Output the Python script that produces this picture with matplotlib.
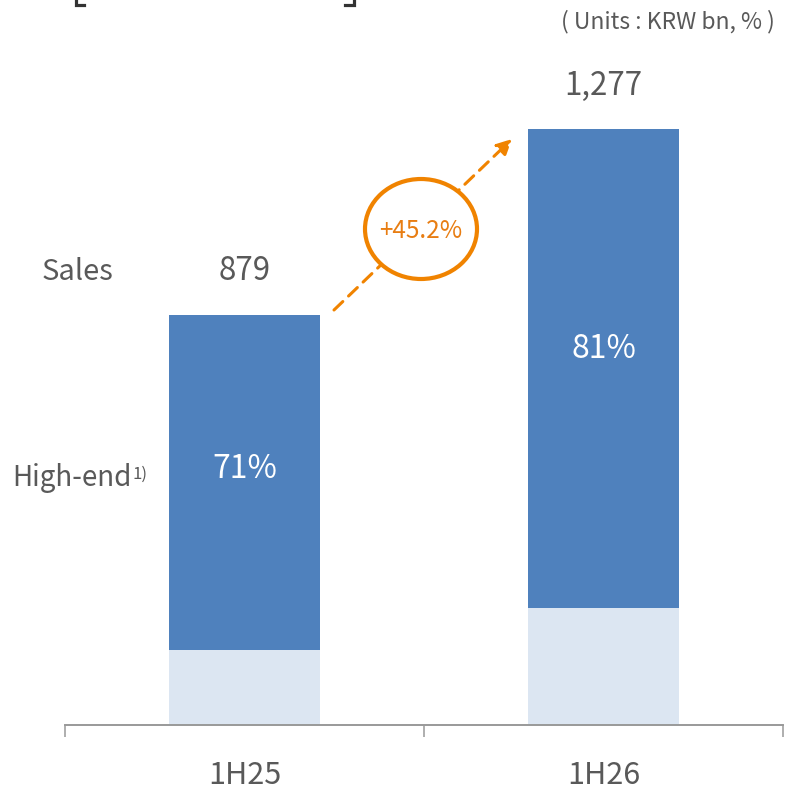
import matplotlib
matplotlib.use('Agg')
import matplotlib.pyplot as plt
from matplotlib.patches import Ellipse
from matplotlib.lines import Line2D

plt.rcParams['font.family'] = ['Noto Sans CJK KR', 'DejaVu Sans']

# data
periods = ['1H25', '1H26']
sales = [879, 1277]
sales_labels = ['879', '1,277']
other_part = [161, 251]          # light bottom segment
share_labels = ['71%', '81%']    # high-end share
growth_label = '+45.2%'

high_end = [s - o for s, o in zip(sales, other_part)]

W = 791
grey = '#595959'
blue = '#4F81BD'
light = '#DCE6F2'
orange = '#F08300'


def px(x, y):
    # pixel position (from top-left) -> figure fraction
    return (x / W, 1 - y / W)


fig = plt.figure(figsize=(7.91, 7.91), dpi=100)
ax = fig.add_axes([65 / W, 66 / W, 718 / W, 725 / W])

x = list(range(len(periods)))
ax.bar(x, other_part, width=0.418, color=light, zorder=2)
ax.bar(x, high_end, bottom=other_part, width=0.418, color=blue, zorder=2)

for i in x:
    ax.annotate(sales_labels[i], (i, sales[i]), xytext=(0, 31.5), textcoords='offset points',
                ha='center', va='center', fontsize=22.5, color=grey)
    ax.text(i, other_part[i] + 0.54 * high_end[i], share_labels[i],
            ha='center', va='center', fontsize=23, color='white')

ax.set_xlim(-0.5, 1.5)
ax.set_ylim(0, 1554)
for s in ['left', 'top', 'right']:
    ax.spines[s].set_visible(False)
ax.spines['bottom'].set_color('#999999')
ax.spines['bottom'].set_linewidth(1.4)
ax.set_yticks([])
ax.set_xticks(x, periods)
ax.set_xticks([-0.5, 0.5, 1.5], minor=True)
ax.tick_params(axis='x', which='major', length=0, pad=25, labelsize=22, labelcolor=grey)
ax.tick_params(axis='x', which='minor', length=8.6, width=1.1, color='#999999')

# row labels
fig.text(*px(78, 272), 'Sales', ha='center', va='center', fontsize=21, color=grey)
fig.text(*px(132, 478), 'High-end', ha='right', va='center', fontsize=20, color=grey)
fig.text(*px(133, 474), '1)', ha='left', va='center', fontsize=12, color=grey)

# units
fig.text(*px(775, 22), '( Units : KRW bn, % )', ha='right', va='center', fontsize=16.5, color=grey)

# cut-off title brackets
for xs, ys in [([75.5, 75.5, 84], [0, 5, 5]), ([345, 353.5, 353.5], [5, 5, 0])]:
    fig.add_artist(Line2D([v / W for v in xs], [1 - v / W for v in ys],
                          transform=fig.transFigure, color='#333333', lw=2.3,
                          solid_joinstyle='miter'))

# growth arrow
ax.annotate('', xy=px(512, 139), xytext=px(334, 310), xycoords='figure fraction',
            textcoords='figure fraction',
            arrowprops=dict(arrowstyle='-|>,head_length=0.9,head_width=0.45', color=orange,
                            lw=2.2, linestyle=(0, (4, 2.6)), shrinkA=0, shrinkB=0))
fig.add_artist(Ellipse(px(421, 229), 112 / W, 100 / W, transform=fig.transFigure,
                       facecolor='white', edgecolor=orange, lw=3, zorder=5))
fig.text(*px(421, 231), growth_label, ha='center', va='center', fontsize=17.5,
         color='#E87D12', zorder=6)

fig.savefig('out.png', dpi=100)
